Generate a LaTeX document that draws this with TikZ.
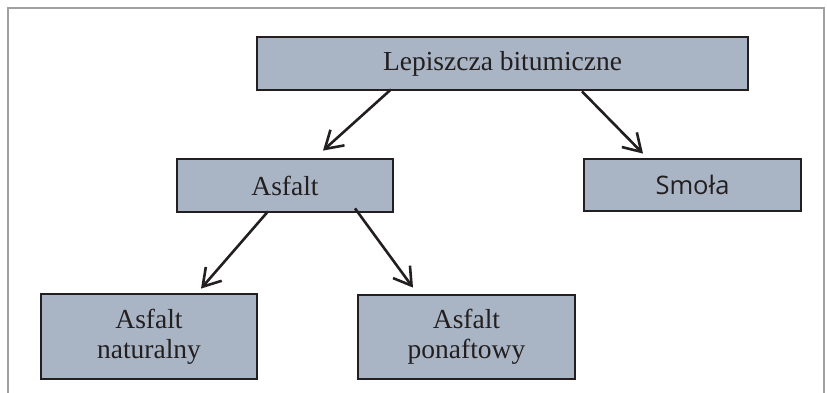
\documentclass[tikz,border=0pt]{standalone}
\usepackage{fontspec}
\setmainfont{Liberation Serif}
\newfontfamily\smolafont{Open Sans}
\usetikzlibrary{arrows.meta}
\definecolor{boxfill}{HTML}{A9B4C4}
\definecolor{ink}{HTML}{231F20}
\definecolor{framegray}{HTML}{A0A0A0}
\begin{document}
\begin{tikzpicture}[x=1pt,y=-1pt,
  box/.style={draw=ink, line width=2.8pt, fill=boxfill, text=ink, inner sep=0pt,
    font=\fontsize{27.5}{30}\selectfont, align=center},
  arr/.style={draw=ink, line width=2.6pt, -{Straight Barb[length=17pt,width=21pt,line width=2.6pt]}}]
\useasboundingbox (0,0) rectangle (827,393);
\draw[framegray, line width=1.4pt] (8,393) -- (8,8) -- (824,8) -- (824,393);
\node[box, minimum width=491pt, minimum height=53pt] (top) at (502.5,63.5) {Lepiszcza bitumiczne};
\node[box, minimum width=216pt, minimum height=53pt] (asf) at (285,185.5) {Asfalt};
\node[box, minimum width=217pt, minimum height=52pt, font=\smolafont\fontsize{25.5}{30}\selectfont] (smola) at (692.5,185) {Smoła};
\node[box, minimum width=216pt, minimum height=85pt] (nat) at (149,336.5) {Asfalt\\naturalny};
\node[box, minimum width=217pt, minimum height=84pt] (pon) at (466.5,337) {Asfalt\\ponaftowy};
\draw[arr] ([xshift=-111.5pt,yshift=2pt]top.south) -- ([xshift=38pt,yshift=7pt]asf.north);
\draw[arr] ([xshift=79.5pt]top.south) -- ([xshift=-49.5pt,yshift=4pt]smola.north);
\draw[arr] ([xshift=-17pt,yshift=2pt]asf.south) -- ([xshift=52pt,yshift=4pt]nat.north);
\draw[arr] ([xshift=70pt,yshift=5pt]asf.south) -- ([xshift=-53.5pt,yshift=6pt]pon.north);
\end{tikzpicture}
\end{document}
